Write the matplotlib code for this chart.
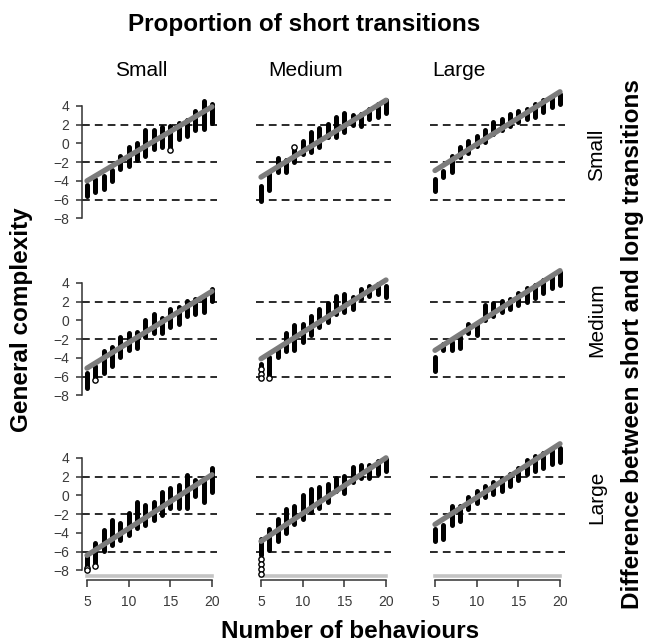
import matplotlib
matplotlib.use("Agg")
import matplotlib.pyplot as plt
import numpy as np

plt.rcParams['font.family'] = ['Liberation Sans', 'DejaVu Sans']

# ---------------- data ----------------
n_behaviours = [5, 6, 7, 8, 9, 10, 11, 12, 13, 14, 15, 16, 17, 18, 19, 20]
col_labels = ["Small", "Medium", "Large"]   # proportion of short transitions
row_labels = ["Small", "Medium", "Large"]   # difference between short and long
x_ticks = [5, 10, 15, 20]
y_ticks = [4, 2, 0, -2, -4, -6, -8]
ref_lines = [2, -2, -6]

# row Small
lo_ss = [-5.6, -5.2, -4.9, -4.0, -2.7, -2.4, -1.8, -1.3, -0.6, -0.4, -0.6, 0.5, 0.8, 1.4, 1.5, 2.2]
hi_ss = [-4.4, -3.8, -3.5, -2.8, -1.3, -0.4, 0.0, 1.4, 1.4, 1.7, 1.9, 2.2, 2.5, 3.5, 4.5, 4.2]
lo_sm = [-6.1, -5.0, -3.1, -3.1, -2.0, -1.1, -0.9, -0.4, 0.7, 0.7, 1.2, 2.0, 1.9, 2.6, 2.8, 3.2]
hi_sm = [-4.5, -3.2, -1.6, -1.8, -0.6, 0.3, 1.2, 1.6, 2.1, 2.8, 3.2, 3.0, 3.1, 3.7, 4.2, 4.6]
lo_sl = [-5.1, -3.6, -3.1, -1.5, -1.0, -0.3, 0.1, 1.0, 1.4, 1.9, 2.3, 2.6, 2.8, 3.3, 3.9, 4.2]
hi_sl = [-3.8, -2.9, -1.3, -0.4, 0.3, 0.8, 1.4, 2.3, 2.6, 3.1, 3.5, 3.7, 4.2, 4.6, 4.8, 5.3]
# row Medium
lo_ms = [-7.2, -6.3, -5.6, -4.9, -3.9, -3.2, -3.0, -1.8, -1.4, -1.4, -0.7, -0.4, 0.5, 0.7, 0.9, 2.1]
hi_ms = [-5.6, -4.9, -3.3, -2.8, -1.8, -1.4, -1.2, 0.0, 0.7, 0.2, 1.2, 1.4, 2.1, 2.3, 2.5, 3.3]
lo_mm = [-5.6, -6.1, -3.9, -3.3, -3.2, -2.3, -1.6, -0.7, -0.2, 0.7, 0.9, 1.2, 2.3, 2.6, 2.8, 2.5]
hi_mm = [-4.7, -3.9, -3.0, -1.4, -0.5, -0.4, 0.5, 1.2, 1.9, 2.6, 2.8, 2.5, 3.3, 3.7, 3.9, 3.7]
lo_ml = [-5.4, -3.2, -3.2, -3.0, -1.4, -1.6, 0.0, 0.5, 0.9, 1.2, 1.6, 2.0, 2.4, 2.9, 3.4, 3.8]
hi_ml = [-3.9, -2.5, -2.3, -1.8, -0.4, -0.5, 1.6, 1.9, 2.1, 2.3, 2.9, 3.4, 3.8, 4.3, 4.7, 5.2]
# row Large
lo_ls = [-7.6, -7.2, -5.9, -5.3, -4.8, -4.2, -3.5, -3.2, -2.6, -2.1, -1.4, -1.4, -1.4, -0.1, -0.7, 0.4]
hi_ls = [-6.4, -5.1, -3.7, -2.6, -3.0, -1.9, -0.7, -1.0, -0.7, 0.4, 0.8, 1.1, 2.2, 1.6, 1.5, 2.9]
lo_lm = [-6.4, -5.8, -4.9, -4.0, -3.1, -2.5, -1.8, -1.3, -0.7, 0.5, 0.3, 1.4, 1.8, 1.9, 2.3, 2.6]
hi_lm = [-4.7, -3.6, -2.5, -1.5, -1.1, 0.0, 0.7, 0.9, 1.2, 1.9, 2.1, 3.0, 3.2, 3.2, 3.7, 3.9]
lo_ll = [-4.9, -4.7, -3.2, -2.7, -1.5, -0.8, -0.2, 0.1, 0.5, 1.0, 1.6, 2.3, 2.6, 2.9, 3.3, 3.6]
hi_ll = [-3.6, -3.2, -1.1, -1.1, -0.2, 0.5, 1.0, 1.4, 1.9, 2.3, 2.9, 3.8, 4.2, 4.5, 4.8, 5.0]

# open-circle points (x, y lists), rows x cols
open_x = [[[15], [9], []],
          [[6], [5, 5, 5, 6], []],
          [[5, 5, 6], [5, 5, 5, 5], []]]
open_y = [[[-0.7], [-0.4], []],
          [[-6.4], [-5.2, -5.7, -6.1, -6.2], []],
          [[-7.8, -8.0, -7.5], [-6.8, -7.3, -7.9, -8.4], []]]

# fitted line: value at 5 and at 20 behaviours, rows x cols
fit_at_5 = [[-4.0, -3.6, -2.9],
            [-5.1, -4.1, -3.2],
            [-6.4, -4.9, -3.1]]
fit_at_20 = [[3.9, 4.6, 5.5],
             [3.1, 4.3, 5.3],
             [2.2, 4.0, 5.5]]

lows = [[lo_ss, lo_sm, lo_sl], [lo_ms, lo_mm, lo_ml], [lo_ls, lo_lm, lo_ll]]
highs = [[hi_ss, hi_sm, hi_sl], [hi_ms, hi_mm, hi_ml], [hi_ls, hi_lm, hi_ll]]

# ---------------- layout ----------------
W, H = 648, 644
fig = plt.figure(figsize=(W / 100, H / 100), dpi=100)

col_left = [82, 256, 430]
row_top = [88, 265, 440]
pw, ph = 135, 136
YLIM = (-8.6, 5.9)
XLIM = (4.4, 20.6)
tick_col = '#333333'
lab_col = '#3a3a3a'


def rect(l, t, w, h):
    return [l / W, 1 - (t + h) / H, w / W, h / H]


for r in range(3):
    for c in range(3):
        ax = fig.add_axes(rect(col_left[c], row_top[r], pw, ph))
        ax.set_xlim(*XLIM)
        ax.set_ylim(*YLIM)
        for s in ax.spines.values():
            s.set_visible(False)
        for yv in ref_lines:
            ax.axhline(yv, color='#2a2a2a', lw=1.4, ls=(0, (4, 2.6)), zorder=1)
        for xi, lo, hi in zip(n_behaviours, lows[r][c], highs[r][c]):
            ax.plot([xi, xi], [lo, hi], color='black', lw=3.6,
                    solid_capstyle='round', zorder=2)
        if open_x[r][c]:
            ax.plot(open_x[r][c], open_y[r][c], 'o', ms=3.8, mfc='white',
                    mec='black', mew=1.0, zorder=2.5, clip_on=False)
        ax.plot([5, 20], [fit_at_5[r][c], fit_at_20[r][c]], color='#7c7c7c',
                lw=3.8, solid_capstyle='round', zorder=3)

        if c == 0:
            ax.spines['left'].set_visible(True)
            ax.spines['left'].set_bounds(-8, 4)
            ax.spines['left'].set_color(tick_col)
            ax.spines['left'].set_linewidth(1.1)
            ax.set_yticks(y_ticks)
            ax.tick_params(axis='y', length=4, width=1.1, color=tick_col,
                           labelcolor=lab_col, labelsize=10, pad=5)
        else:
            ax.set_yticks([])
        if r == 2:
            ax.plot([5, 20], [YLIM[0], YLIM[0]], color='#c4c4c4', lw=2.6,
                    clip_on=False, zorder=0)
            ax.spines['bottom'].set_visible(True)
            ax.spines['bottom'].set_position(('outward', 3))
            ax.spines['bottom'].set_bounds(5, 20)
            ax.spines['bottom'].set_color(tick_col)
            ax.spines['bottom'].set_linewidth(1.1)
            ax.set_xticks(x_ticks)
            ax.tick_params(axis='x', length=5, width=1.1, color=tick_col,
                           labelcolor=lab_col, labelsize=10, pad=6)
        else:
            ax.set_xticks([])


def ftext(x, y, s, **kw):
    fig.text(x / W, 1 - y / H, s, ha='center', va='center', **kw)


ftext(304, 24, "Proportion of short transitions", fontsize=17.5, fontweight='bold')
for cx, lab in zip([141, 306, 459], col_labels):
    ftext(cx, 70, lab, fontsize=15)
for cy, lab in zip([155, 320, 497], row_labels):
    ftext(597, cy, lab, fontsize=15, rotation=90)
ftext(632, 344, "Difference between short and long transitions", fontsize=17.5,
      fontweight='bold', rotation=90)
ftext(22, 320, "General complexity", fontsize=17.5, fontweight='bold', rotation=90)
ftext(350, 631, "Number of behaviours", fontsize=17.5, fontweight='bold')

fig.savefig("out.png", dpi=100)
